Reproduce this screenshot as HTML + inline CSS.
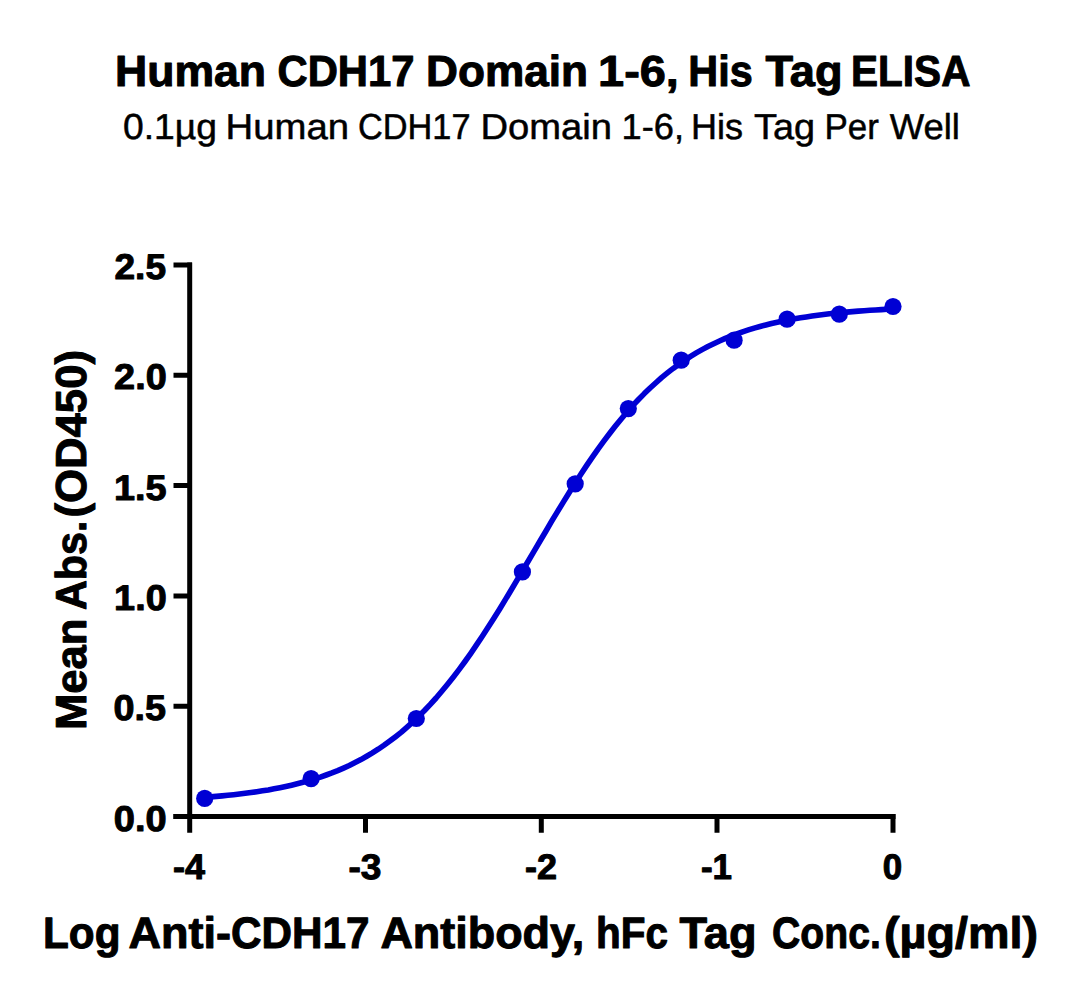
<!DOCTYPE html>
<html><head><meta charset="utf-8"><title>Human CDH17 Domain 1-6, His Tag ELISA</title><style>
html,body{margin:0;padding:0;background:#fff;}
svg{display:block;}
text{font-family:"Liberation Sans",sans-serif;fill:#000;text-rendering:geometricPrecision;}
text{stroke:#000;stroke-width:0.5px;stroke-linejoin:round;}
.b{font-weight:bold;stroke-width:1px;}
</style></head><body>
<svg width="1080" height="1000" viewBox="0 0 1080 1000">
<rect width="1080" height="1000" fill="#fff"/>
<text class="b" font-size="43.5" x="115.00" y="86" textLength="151.00" lengthAdjust="spacingAndGlyphs">Human</text>
<text class="b" font-size="43.5" x="277.50" y="86" textLength="137.00" lengthAdjust="spacingAndGlyphs">CDH17</text>
<text class="b" font-size="43.5" x="426.00" y="86" textLength="162.00" lengthAdjust="spacingAndGlyphs">Domain</text>
<text class="b" font-size="43.5" x="598.10" y="86" textLength="80.80" lengthAdjust="spacingAndGlyphs">1-6,</text>
<text class="b" font-size="43.5" x="688.30" y="86" textLength="64.40" lengthAdjust="spacingAndGlyphs">His</text>
<text class="b" font-size="43.5" x="765.50" y="86" textLength="77.00" lengthAdjust="spacingAndGlyphs">Tag</text>
<text class="b" font-size="43.5" x="851.10" y="86" textLength="119.30" lengthAdjust="spacingAndGlyphs">ELISA</text>
<text font-size="36" x="123.00" y="139" textLength="94.00" lengthAdjust="spacingAndGlyphs">0.1µg</text>
<text font-size="36" x="225.60" y="139" textLength="123.40" lengthAdjust="spacingAndGlyphs">Human</text>
<text font-size="36" x="358.00" y="139" textLength="112.50" lengthAdjust="spacingAndGlyphs">CDH17</text>
<text font-size="36" x="480.50" y="139" textLength="131.50" lengthAdjust="spacingAndGlyphs">Domain</text>
<text font-size="36" x="621.50" y="139" textLength="62.50" lengthAdjust="spacingAndGlyphs">1-6,</text>
<text font-size="36" x="691.10" y="139" textLength="52.00" lengthAdjust="spacingAndGlyphs">His</text>
<text font-size="36" x="754.00" y="139" textLength="61.00" lengthAdjust="spacingAndGlyphs">Tag</text>
<text font-size="36" x="824.40" y="139" textLength="54.40" lengthAdjust="spacingAndGlyphs">Per</text>
<text font-size="36" x="889.70" y="139" textLength="70.30" lengthAdjust="spacingAndGlyphs">Well</text>
<text class="b" font-size="44" x="43.00" y="948" textLength="77.50" lengthAdjust="spacingAndGlyphs">Log</text>
<text class="b" font-size="44" x="128.50" y="948" textLength="102.50" lengthAdjust="spacingAndGlyphs">Anti-</text>
<text class="b" font-size="44" x="231.00" y="948" textLength="138.50" lengthAdjust="spacingAndGlyphs">CDH17</text>
<text class="b" font-size="44" x="380.40" y="948" textLength="203.80" lengthAdjust="spacingAndGlyphs">Antibody,</text>
<text class="b" font-size="44" x="596.00" y="948" textLength="72.00" lengthAdjust="spacingAndGlyphs">hFc</text>
<text class="b" font-size="44" x="679.50" y="948" textLength="77.00" lengthAdjust="spacingAndGlyphs">Tag</text>
<text class="b" font-size="44" x="772.00" y="948" textLength="108.80" lengthAdjust="spacingAndGlyphs">Conc.</text>
<text class="b" font-size="44" x="884.00" y="948" textLength="154.00" lengthAdjust="spacingAndGlyphs">(µg/ml)</text>
<text class="b" font-size="43.3" transform="translate(86.3,730.00) rotate(-90)" textLength="111.50" lengthAdjust="spacingAndGlyphs">Mean</text>
<text class="b" font-size="43.3" transform="translate(86.3,610.00) rotate(-90)" textLength="89.50" lengthAdjust="spacingAndGlyphs">Abs.</text>
<text class="b" font-size="43.3" transform="translate(86.3,517.50) rotate(-90)" textLength="167.50" lengthAdjust="spacingAndGlyphs">(OD450)</text>
<text class="b" font-size="35.7" x="114.50" y="279" textLength="51.50" lengthAdjust="spacingAndGlyphs">2.5</text>
<text class="b" font-size="35.7" x="114.10" y="389" textLength="52.60" lengthAdjust="spacingAndGlyphs">2.0</text>
<text class="b" font-size="35.7" x="114.00" y="500" textLength="52.60" lengthAdjust="spacingAndGlyphs">1.5</text>
<text class="b" font-size="35.7" x="114.10" y="610" textLength="52.60" lengthAdjust="spacingAndGlyphs">1.0</text>
<text class="b" font-size="35.7" x="113.50" y="720" textLength="52.50" lengthAdjust="spacingAndGlyphs">0.5</text>
<text class="b" font-size="35.7" x="113.80" y="831" textLength="52.80" lengthAdjust="spacingAndGlyphs">0.0</text>
<text class="b" font-size="35.5" x="173.00" y="879" textLength="32.00" lengthAdjust="spacingAndGlyphs">-4</text>
<text class="b" font-size="35.5" x="348.50" y="879" textLength="33.00" lengthAdjust="spacingAndGlyphs">-3</text>
<text class="b" font-size="35.5" x="525.00" y="879" textLength="32.00" lengthAdjust="spacingAndGlyphs">-2</text>
<text class="b" font-size="35.5" x="700.90" y="879" textLength="31.10" lengthAdjust="spacingAndGlyphs">-1</text>
<text class="b" font-size="35.5" x="882.80" y="879" textLength="19.40" lengthAdjust="spacingAndGlyphs">0</text>
<g stroke="#000" stroke-width="5" fill="none" stroke-linecap="butt">
<path d="M189.7 262.5 V832.8"/>
<path d="M173.2 816.6 H895.5"/>
<path d="M173.5 265 H192 M173.5 375.3 H192 M173.5 485.6 H192 M173.5 596 H192 M173.5 706.3 H192"/>
<path d="M365.5 816.6 V832.8 M541.3 816.6 V832.8 M717 816.6 V832.8 M893 814 V832.8"/>
</g>
<polyline points="204.7,797.3 210.5,796.9 216.3,796.4 222.1,795.9 227.8,795.3 233.6,794.7 239.4,794.0 245.2,793.3 251.0,792.5 256.8,791.7 262.5,790.8 268.3,789.9 274.1,788.8 279.9,787.7 285.7,786.5 291.5,785.2 297.2,783.8 303.0,782.3 308.8,780.7 314.6,778.9 320.4,777.1 326.2,775.0 331.9,772.9 337.7,770.6 343.5,768.1 349.3,765.5 355.1,762.6 360.9,759.6 366.7,756.3 372.4,752.9 378.2,749.2 384.0,745.3 389.8,741.1 395.6,736.7 401.4,732.1 407.1,727.1 412.9,721.9 418.7,716.3 424.5,710.5 430.3,704.4 436.1,698.0 441.8,691.3 447.6,684.3 453.4,677.0 459.2,669.4 465.0,661.5 470.8,653.3 476.5,644.9 482.3,636.2 488.1,627.3 493.9,618.2 499.7,608.9 505.5,599.4 511.3,589.8 517.0,580.1 522.8,570.3 528.6,560.5 534.4,550.6 540.2,540.8 546.0,531.0 551.7,521.2 557.5,511.6 563.3,502.1 569.1,492.7 574.9,483.6 580.7,474.6 586.4,465.9 592.2,457.4 598.0,449.1 603.8,441.2 609.6,433.5 615.4,426.1 621.2,419.0 626.9,412.2 632.7,405.7 638.5,399.5 644.3,393.6 650.1,388.0 655.9,382.7 661.6,377.6 667.4,372.9 673.2,368.4 679.0,364.2 684.8,360.2 690.6,356.4 696.3,352.9 702.1,349.6 707.9,346.5 713.7,343.7 719.5,341.0 725.3,338.4 731.0,336.1 736.8,333.9 742.6,331.8 748.4,329.9 754.2,328.1 760.0,326.5 765.8,325.0 771.5,323.5 777.3,322.2 783.1,321.0 788.9,319.8 794.7,318.8 800.5,317.8 806.2,316.9 812.0,316.0 817.8,315.2 823.6,314.5 829.4,313.8 835.2,313.2 840.9,312.6 846.7,312.1 852.5,311.6 858.3,311.1 864.1,310.7 869.9,310.3 875.6,310.0 881.4,309.6 887.2,309.3 893.0,309.0" fill="none" stroke="#0000d4" stroke-width="5.6" stroke-linejoin="round" stroke-linecap="round"/>
<g fill="#0000d4"><circle cx="204.7" cy="798.4" r="8.6"/><circle cx="311.1" cy="778.7" r="8.6"/><circle cx="416.3" cy="718.5" r="8.6"/><circle cx="522.4" cy="571.9" r="8.6"/><circle cx="575.2" cy="483.8" r="8.6"/><circle cx="628.3" cy="408.6" r="8.6"/><circle cx="681.2" cy="360.2" r="8.6"/><circle cx="734.1" cy="340.2" r="8.6"/><circle cx="787.1" cy="319.2" r="8.6"/><circle cx="839.3" cy="314.2" r="8.6"/><circle cx="893.0" cy="306.5" r="8.6"/></g>
</svg>
</body></html>
